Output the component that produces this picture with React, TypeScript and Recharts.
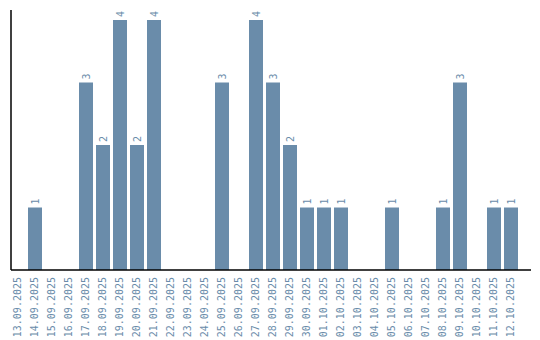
import React from "react";
import { BarChart, Bar, XAxis, YAxis, LabelList } from "recharts";

const dates = [
  "13.09.2025", "14.09.2025", "15.09.2025", "16.09.2025", "17.09.2025",
  "18.09.2025", "19.09.2025", "20.09.2025", "21.09.2025", "22.09.2025",
  "23.09.2025", "24.09.2025", "25.09.2025", "26.09.2025", "27.09.2025",
  "28.09.2025", "29.09.2025", "30.09.2025", "01.10.2025", "02.10.2025",
  "03.10.2025", "04.10.2025", "05.10.2025", "06.10.2025", "07.10.2025",
  "08.10.2025", "09.10.2025", "10.10.2025", "11.10.2025", "12.10.2025",
];
const counts = [0, 1, 0, 0, 3, 2, 4, 2, 4, 0, 0, 0, 3, 0, 4, 3, 2, 1, 1, 1, 0, 0, 1, 0, 0, 1, 3, 0, 1, 1];

const data = dates.map((d, i) => ({ date: d, value: counts[i] }));

const TEXT = "#6a8caa";
const BAR = "#6a8caa";
const FONT = "'DejaVu Sans Mono', monospace";

const Tick = (props: any) => {
  const { x, y, payload } = props;
  return (
    <text
      x={x}
      y={y}
      transform={`rotate(-90, ${x}, ${y})`}
      textAnchor="end"
      dominantBaseline="central"
      fill={TEXT}
      fontFamily={FONT}
      fontSize={10}
    >
      {payload.value}
    </text>
  );
};

const Lbl = (props: any) => {
  const { x, y, width, value } = props;
  if (!value) return null;
  const cx = x + width / 2;
  const cy = y - 3;
  return (
    <text
      x={cx}
      y={cy}
      transform={`rotate(-90, ${cx}, ${cy})`}
      textAnchor="start"
      dominantBaseline="central"
      fill={TEXT}
      fontFamily={FONT}
      fontSize={10}
    >
      {value}
    </text>
  );
};

export default function App() {
  return (
    <div style={{ position: "absolute", left: 0, top: 0 }}>
      <BarChart
        width={540}
        height={340}
        data={data}
        margin={{ top: 10, right: 9, bottom: 0, left: 10 }}
        barSize={14}
      >
        <XAxis
          dataKey="date"
          interval={0}
          height={70}
          tick={<Tick />}
          tickLine={false}
          tickSize={0}
          tickMargin={7}
          axisLine={{ stroke: "#000", strokeWidth: 1.5 }}
          padding={{ left: -2, right: 12 }}
        />
        <YAxis
          width={1}
          domain={[0, 4.16]}
          tick={false}
          tickLine={false}
          axisLine={{ stroke: "#000", strokeWidth: 1.5 }}
        />
        <Bar dataKey="value" fill={BAR} isAnimationActive={false}>
          <LabelList dataKey="value" content={<Lbl />} />
        </Bar>
      </BarChart>
    </div>
  );
}
